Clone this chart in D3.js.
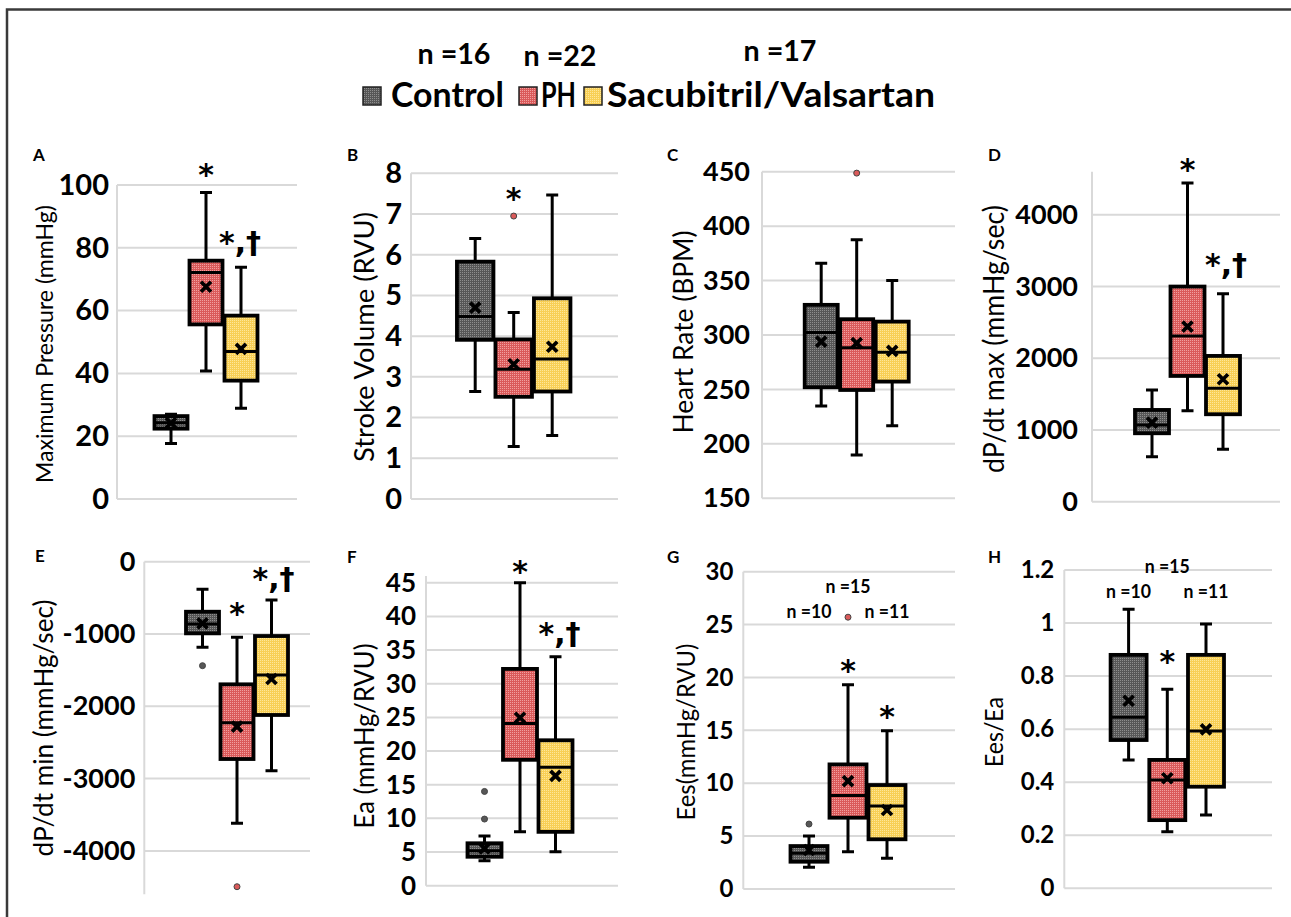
<!DOCTYPE html>
<html>
<head>
<meta charset="utf-8">
<script src="https://cdn.jsdelivr.net/npm/d3@7"></script>
<style>
  body { margin: 0; background: #fff; }
  svg { display: block; font-family: Lato, "Open Sans", sans-serif; }
</style>
</head>
<body>
<svg id="chart" width="1291" height="917"></svg>
<script>
/* DATA */
// every stats row is [lower whisker, Q1, median, Q3, upper whisker, mean]
const groups = ["Control", "PH", "Sacubitril/Valsartan"];
const groupN = ["n =16", "n =22", "n =17"];

const maxPressureStats = [[17.7, 22.4, 24.3, 26.4, 27.0, 24.2], [40.8, 55.6, 72.1, 75.9, 97.6, 67.6], [28.9, 37.7, 47.0, 58.4, 73.8, 47.8]];
const maxPressureOutliers = [[], [], []];
const maxPressureTicks = [0, 20, 40, 60, 80, 100];

const strokeVolumeStats = [[2.64, 3.91, 4.48, 5.83, 6.40, 4.70], [1.29, 2.51, 3.19, 3.92, 4.58, 3.31], [1.56, 2.64, 3.44, 4.93, 7.47, 3.74]];
const strokeVolumeOutliers = [[], [6.95], []];
const strokeVolumeTicks = [0, 1, 2, 3, 4, 5, 6, 7, 8];

const heartRateStats = [[234.8, 252, 302.2, 327.7, 366, 294], [189.8, 249.5, 288.4, 314.5, 387.4, 292.5], [216.7, 257.2, 284.2, 312.3, 350, 285.4]];
const heartRateOutliers = [[], [448.7], []];
const heartRateTicks = [150, 200, 250, 300, 350, 400, 450];

const dpdtMaxStats = [[628, 954, 1070, 1279, 1558, 1102], [1269, 1753, 2311, 2999, 4441, 2441], [731, 1219, 1582, 2032, 2900, 1707]];
const dpdtMaxOutliers = [[], [], []];
const dpdtMaxTicks = [0, 1000, 2000, 3000, 4000];

const dpdtMinStats = [[-1184, -991, -862, -692, -382, -853], [-3618, -2729, -2227, -1696, -1046, -2282], [-2890, -2120, -1567, -1028, -530, -1622]];
const dpdtMinOutliers = [[-1438], [-4495], []];
const dpdtMinTicks = [0, -1000, -2000, -3000, -4000];

const eaStats = [[3.7, 4.3, 5.2, 6.3, 7.4, 5.55], [8.0, 18.7, 24.1, 32.2, 45, 24.95], [5.05, 8.0, 17.6, 21.6, 34.0, 16.3]];
const eaOutliers = [[9.9, 14.0], [], []];
const eaTicks = [0, 5, 10, 15, 20, 25, 30, 35, 40, 45];

const eesStats = [[2.05, 2.58, 3.37, 4.06, 5.0, 3.69], [3.53, 6.74, 8.85, 11.78, 19.3, 10.2], [2.9, 4.70, 7.85, 9.83, 14.96, 7.47]];
const eesOutliers = [[6.14], [25.7], []];
const eesTicks = [0, 5, 10, 15, 20, 25, 30];

const eesEaStats = [[0.484, 0.559, 0.645, 0.880, 1.052, 0.707], [0.213, 0.257, 0.408, 0.484, 0.75, 0.415], [0.276, 0.383, 0.593, 0.880, 0.996, 0.599]];
const eesEaOutliers = [[], [], []];
const eesEaTicks = [0, 0.2, 0.4, 0.6, 0.8, 1, 1.2];

// sample sizes printed inside G and H
const subsetN = ["n =10", "n =15", "n =11"];

/* LAYOUT */
const panels = [
  { letter: "A", lx: 33, ly: 161, title: "Maximum Pressure (mmHg)", tx: 43, ty: 344, tSize: 23, tLen: 278,
    stats: maxPressureStats, outliers: maxPressureOutliers, ticks: maxPressureTicks,
    domain: [0, 100], range: [499, 185], axisX: 117, right: 297, tickSize: 29, tickPad: 8,
    center: 206, step: 35, boxW: 33,
    notes: [{ g: 1, text: "*", y: 185 }, { g: 2, text: "*,†", y: 253, dx: -1 }] },
  { letter: "B", lx: 347, ly: 161, title: "Stroke Volume (RVU)", tx: 363, ty: 337, tSize: 26, tLen: 250,
    stats: strokeVolumeStats, outliers: strokeVolumeOutliers, ticks: strokeVolumeTicks,
    domain: [0, 8], range: [499, 173.3], axisX: 411, right: 618, tickSize: 29, tickPad: 9,
    center: 513.7, step: 38.5, boxW: 36.5,
    notes: [{ g: 1, text: "*", y: 209 }] },
  { letter: "C", lx: 667, ly: 161, title: "Heart Rate (BPM)", tx: 682, ty: 332, tSize: 26, tLen: 203,
    stats: heartRateStats, outliers: heartRateOutliers, ticks: heartRateTicks,
    domain: [150, 450], range: [498.3, 171.7], axisX: 762, right: 955, tickSize: 27, tickPad: 12,
    center: 856.7, step: 35.5, boxW: 33,
    notes: [] },
  { letter: "D", lx: 988, ly: 161, title: "dP/dt max (mmHg/sec)", tx: 993, ty: 339, tSize: 27, tLen: 268,
    stats: dpdtMaxStats, outliers: dpdtMaxOutliers, ticks: dpdtMaxTicks,
    domain: [0, 4600], range: [501.7, 171.7], axisX: 1092, right: 1280, tickSize: 27, tickPad: 14,
    center: 1187.5, step: 35.5, boxW: 34,
    notes: [{ g: 1, text: "*", y: 180 }, { g: 2, text: "*,†", y: 275, dx: 3 }] },
  { letter: "E", lx: 35, ly: 562, title: "dP/dt min (mmHg/sec)", tx: 42, ty: 728, tSize: 26.5, tLen: 257,
    stats: dpdtMinStats, outliers: dpdtMinOutliers, ticks: dpdtMinTicks,
    domain: [-4600, 0], range: [894.3, 561.7], axisX: 144.3, right: 310, tickSize: 27, tickPad: 9,
    center: 237, step: 34.5, boxW: 33,
    notes: [{ g: 1, text: "*", y: 624 }, { g: 2, text: "*,†", y: 589, dx: 2 }] },
  { letter: "F", lx: 347, ly: 563, title: "Ea (mmHg/RVU)", tx: 363, ty: 736, tSize: 26, tLen: 185,
    stats: eaStats, outliers: eaOutliers, ticks: eaTicks,
    domain: [0, 46], range: [885.7, 576], axisX: 426, right: 618, tickSize: 26, tickPad: 10,
    center: 520, step: 35.5, boxW: 34,
    notes: [{ g: 1, text: "*", y: 582 }, { g: 2, text: "*,†", y: 644, dx: 4 }] },
  { letter: "G", lx: 667, ly: 563, title: "Ees(mmHg/RVU)", tx: 685, ty: 732, tSize: 24.5, tLen: 177,
    stats: eesStats, outliers: eesOutliers, ticks: eesTicks,
    domain: [0, 30], range: [889, 571.7], axisX: 743.3, right: 955, tickSize: 24, tickPad: 10,
    center: 848, step: 39, boxW: 37,
    notes: [{ g: 1, text: "*", y: 681 }, { g: 2, text: "*", y: 727 }],
    nY: [618, 593, 618] },
  { letter: "H", lx: 988, ly: 563, title: "Ees/Ea", tx: 993, ty: 732, tSize: 24.5, tLen: 70,
    stats: eesEaStats, outliers: eesEaOutliers, ticks: eesEaTicks,
    domain: [0, 1.2], range: [888.3, 570], axisX: 1064.3, right: 1272, tickSize: 24, tickPad: 10,
    center: 1167.3, step: 38.7, boxW: 36,
    notes: [{ g: 1, text: "*", y: 672 }],
    nY: [598, 573, 598] }
];

const fills = { base: ["#575757", "#da5a5a", "#f8cf55"], dot: ["#8e8e8e", "#f0a0a0", "#fde79a"] };

const svg = d3.select("#chart");

// PATTERNS (the Excel fills are finely dotted)
const defs = svg.append("defs");
groups.forEach((g, i) => {
  const p = defs.append("pattern")
    .attr("id", "pat" + i)
    .attr("width", 2).attr("height", 2)
    .attr("patternUnits", "userSpaceOnUse");
  p.append("rect").attr("width", 2).attr("height", 2).attr("fill", fills.base[i]);
  p.append("rect").attr("width", 1).attr("height", 1).attr("fill", fills.dot[i]);
});

// FRAME (only top and left edges show)
svg.append("path")
  .attr("d", "M7,917V9.5H1291")
  .attr("fill", "none")
  .attr("stroke", "#3a3a3a")
  .attr("stroke-width", 2.5);

/* LEGEND */
const legendN = [{ x: 454, y: 64 }, { x: 560, y: 66 }, { x: 780, y: 61 }];
svg.selectAll("text.leg-n")
  .data(groupN)
  .join("text")
  .attr("class", "leg-n")
  .attr("x", (d, i) => legendN[i].x)
  .attr("y", (d, i) => legendN[i].y)
  .attr("text-anchor", "middle")
  .attr("font-size", 28)
  .attr("font-weight", 700)
  .attr("textLength", 73)
  .attr("lengthAdjust", "spacingAndGlyphs")
  .text(d => d);

const legendX = [363, 519, 584];
const legendTextX = [391, 541, 607];
const legendLen = [113, 35, 328];
svg.selectAll("rect.leg-sw")
  .data(groups)
  .join("rect")
  .attr("class", "leg-sw")
  .attr("x", (d, i) => legendX[i])
  .attr("y", 87)
  .attr("width", 18).attr("height", 18)
  .attr("fill", (d, i) => `url(#pat${i})`)
  .attr("stroke", "#222")
  .attr("stroke-width", 1.5);

svg.selectAll("text.leg-label")
  .data(groups)
  .join("text")
  .attr("class", "leg-label")
  .attr("x", (d, i) => legendTextX[i])
  .attr("y", 107)
  .attr("font-size", 35)
  .attr("font-weight", 700)
  .attr("textLength", (d, i) => legendLen[i])
  .attr("lengthAdjust", "spacingAndGlyphs")
  .text(d => d);

/* PANELS */
panels.forEach(p => {
  const g = svg.append("g");

  const y = d3.scaleLinear().domain(p.domain).range(p.range);
  const pad = 1 - p.boxW / p.step;
  const x = d3.scaleBand()
    .domain(groups)
    .range([p.center - 1.5 * p.step, p.center + 1.5 * p.step])
    .paddingInner(pad)
    .paddingOuter(pad / 2);
  const bw = x.bandwidth();
  const cx = name => x(name) + bw / 2;

  // gridlines
  g.selectAll("line.grid")
    .data(p.ticks)
    .join("line")
    .attr("x1", p.axisX).attr("x2", p.right)
    .attr("y1", d => y(d)).attr("y2", d => y(d))
    .attr("stroke", "#d9d9d9")
    .attr("stroke-width", 2);

  g.append("line")
    .attr("x1", p.axisX).attr("x2", p.axisX)
    .attr("y1", y(p.domain[0])).attr("y2", y(p.domain[1]))
    .attr("stroke", "#d9d9d9")
    .attr("stroke-width", 2);

  // axis labels
  const axis = g.append("g")
    .attr("transform", `translate(${p.axisX},0)`)
    .call(d3.axisLeft(y)
      .tickValues(p.ticks)
      .tickSize(0)
      .tickPadding(p.tickPad)
      .tickFormat(d => String(+d.toFixed(2))));
  axis.select(".domain").remove();
  axis.attr("font-family", null).attr("font-size", null);
  axis.selectAll("text")
    .attr("font-size", p.tickSize)
    .attr("font-weight", 700)
    .attr("fill", "#000");

  // axis title
  g.append("text")
    .attr("transform", `translate(${p.tx},${p.ty}) rotate(-90)`)
    .attr("text-anchor", "middle")
    .attr("dominant-baseline", "central")
    .attr("font-size", p.tSize + 1)
    .attr("textLength", p.tLen)
    .attr("lengthAdjust", "spacingAndGlyphs")
    .text(p.title);

  // panel letter
  g.append("text")
    .attr("x", p.lx).attr("y", p.ly)
    .attr("font-size", 17)
    .attr("font-weight", 700)
    .text(p.letter);

  // whiskers
  const rows = p.stats.map((s, i) => ({ name: groups[i], i, s }));
  const cap = 6;
  rows.forEach(r => {
    const [lo, q1, med, q3, hi] = r.s;
    const c = cx(r.name);
    g.append("path")
      .attr("d", `M${c},${y(q3)}V${y(hi)}M${c - cap},${y(hi)}H${c + cap}` +
                 `M${c},${y(q1)}V${y(lo)}M${c - cap},${y(lo)}H${c + cap}`)
      .attr("fill", "none")
      .attr("stroke", "#000")
      .attr("stroke-width", 3);
  });

  // boxes
  g.selectAll("rect.box")
    .data(rows)
    .join("rect")
    .attr("class", "box")
    .attr("x", d => x(d.name))
    .attr("y", d => y(d.s[3]))
    .attr("width", bw)
    .attr("height", d => y(d.s[1]) - y(d.s[3]))
    .attr("fill", d => `url(#pat${d.i})`)
    .attr("stroke", "#000")
    .attr("stroke-width", 3.8);

  // medians
  g.selectAll("line.med")
    .data(rows)
    .join("line")
    .attr("x1", d => x(d.name)).attr("x2", d => x(d.name) + bw)
    .attr("y1", d => y(d.s[2])).attr("y2", d => y(d.s[2]))
    .attr("stroke", "#000")
    .attr("stroke-width", 3);

  // means
  g.selectAll("path.mean")
    .data(rows)
    .join("path")
    .attr("transform", d => `translate(${cx(d.name)},${y(d.s[5])})`)
    .attr("d", "M-5,-5L5,5M-5,5L5,-5")
    .attr("stroke", "#000")
    .attr("stroke-width", 3.8);

  // outliers
  const pts = [];
  p.outliers.forEach((list, i) => list.forEach(v => pts.push({ name: groups[i], i, v })));
  g.selectAll("circle.out")
    .data(pts)
    .join("circle")
    .attr("cx", d => cx(d.name))
    .attr("cy", d => y(d.v))
    .attr("r", 3)
    .attr("fill", d => fills.base[d.i])
    .attr("stroke", "#444")
    .attr("stroke-width", 1);

  // significance marks
  g.selectAll("text.note")
    .data(p.notes)
    .join("text")
    .attr("x", d => cx(groups[d.g]) + (d.dx || 0))
    .attr("y", d => d.y)
    .attr("text-anchor", "middle")
    .attr("font-family", "'DejaVu Sans', sans-serif")
    .attr("font-size", 30)
    .attr("font-weight", 700)
    .text(d => d.text);

  // subset sizes (G, H)
  if (p.nY) {
    g.selectAll("text.subn")
      .data(subsetN)
      .join("text")
      .attr("x", (d, i) => cx(groups[i]))
      .attr("y", (d, i) => p.nY[i])
      .attr("text-anchor", "middle")
      .attr("font-size", 19)
      .attr("font-weight", 700)
      .attr("textLength", 45)
      .attr("lengthAdjust", "spacingAndGlyphs")
      .text(d => d);
  }
});
</script>
</body>
</html>
